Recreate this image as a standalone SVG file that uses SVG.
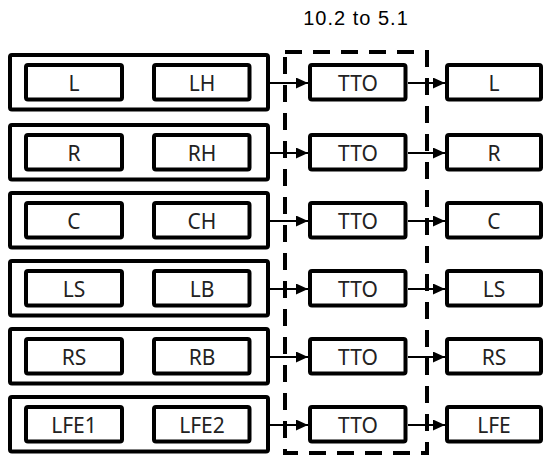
<svg xmlns="http://www.w3.org/2000/svg" width="545" height="455" viewBox="0 0 545 455">
<style>
.outer{fill:#fff;stroke:#000;stroke-width:4}
.box{fill:#fff;stroke:#000;stroke-width:4}
.lbl{font-family:"Noto Sans","Open Sans",sans-serif;font-size:21px;fill:#222;text-anchor:middle}
.title{font-family:"Liberation Sans",Arial,sans-serif;font-size:20px;fill:#000;text-anchor:middle;letter-spacing:1px}
.conn{stroke:#000;stroke-width:2;fill:none}
.dash{fill:none;stroke:#000;stroke-width:4;stroke-dasharray:17 11}
</style>
<defs>
<marker id="ah" markerUnits="userSpaceOnUse" markerWidth="12" markerHeight="11" refX="12" refY="5.5" orient="auto">
<path d="M0,0 L12,5.5 L0,11 z" fill="#000"/>
</marker>
<g id="rowtpl">
<rect class="outer" x="10" y="2" width="258" height="54.5" rx="2"/>
<rect class="box" x="26" y="12" width="96" height="34.5" rx="2"/>
<rect class="box" x="154" y="12" width="95.5" height="34.5" rx="2"/>
<rect class="box" x="310" y="12" width="95.5" height="34.5" rx="2"/>
<rect class="box" x="447" y="12" width="94" height="34.5" rx="2"/>
</g>
</defs>
<text class="title" x="356" y="25">10.2 to 5.1</text>
<g id="row1" transform="translate(0,53)"><use href="#rowtpl"/>
<text class="lbl" x="74" y="37.5">L</text><text class="lbl" x="202" y="37.5">LH</text><text class="lbl" x="358" y="37.5">TTO</text><text class="lbl" x="494" y="37.5">L</text></g>
<g id="row2" transform="translate(0,123)"><use href="#rowtpl"/>
<text class="lbl" x="74" y="37.5">R</text><text class="lbl" x="202" y="37.5">RH</text><text class="lbl" x="358" y="37.5">TTO</text><text class="lbl" x="494" y="37.5">R</text></g>
<g id="row3" transform="translate(0,191)"><use href="#rowtpl"/>
<text class="lbl" x="74" y="37.5">C</text><text class="lbl" x="202" y="37.5">CH</text><text class="lbl" x="358" y="37.5">TTO</text><text class="lbl" x="494" y="37.5">C</text></g>
<g id="row4" transform="translate(0,259)"><use href="#rowtpl"/>
<text class="lbl" x="74" y="37.5">LS</text><text class="lbl" x="202" y="37.5">LB</text><text class="lbl" x="358" y="37.5">TTO</text><text class="lbl" x="494" y="37.5">LS</text></g>
<g id="row5" transform="translate(0,327)"><use href="#rowtpl"/>
<text class="lbl" x="74" y="37.5">RS</text><text class="lbl" x="202" y="37.5">RB</text><text class="lbl" x="358" y="37.5">TTO</text><text class="lbl" x="494" y="37.5">RS</text></g>
<g id="row6" transform="translate(0,395)"><use href="#rowtpl"/>
<text class="lbl" x="74" y="37.5">LFE1</text><text class="lbl" x="202" y="37.5">LFE2</text><text class="lbl" x="358" y="37.5">TTO</text><text class="lbl" x="494" y="37.5">LFE</text></g>
<g id="connectors">
<path class="conn" marker-end="url(#ah)" d="M270,83 H308"/>
<path class="conn" marker-end="url(#ah)" d="M408,83 H445"/>
<path class="conn" marker-end="url(#ah)" d="M270,153 H308"/>
<path class="conn" marker-end="url(#ah)" d="M408,153 H445"/>
<path class="conn" marker-end="url(#ah)" d="M270,221 H308"/>
<path class="conn" marker-end="url(#ah)" d="M408,221 H445"/>
<path class="conn" marker-end="url(#ah)" d="M270,289 H308"/>
<path class="conn" marker-end="url(#ah)" d="M408,289 H445"/>
<path class="conn" marker-end="url(#ah)" d="M270,357 H308"/>
<path class="conn" marker-end="url(#ah)" d="M408,357 H445"/>
<path class="conn" marker-end="url(#ah)" d="M270,425 H308"/>
<path class="conn" marker-end="url(#ah)" d="M408,425 H445"/>
</g>
<g id="dashed-group">
<rect class="dash" x="285" y="52" width="142" height="401"/>
</g>
</svg>
